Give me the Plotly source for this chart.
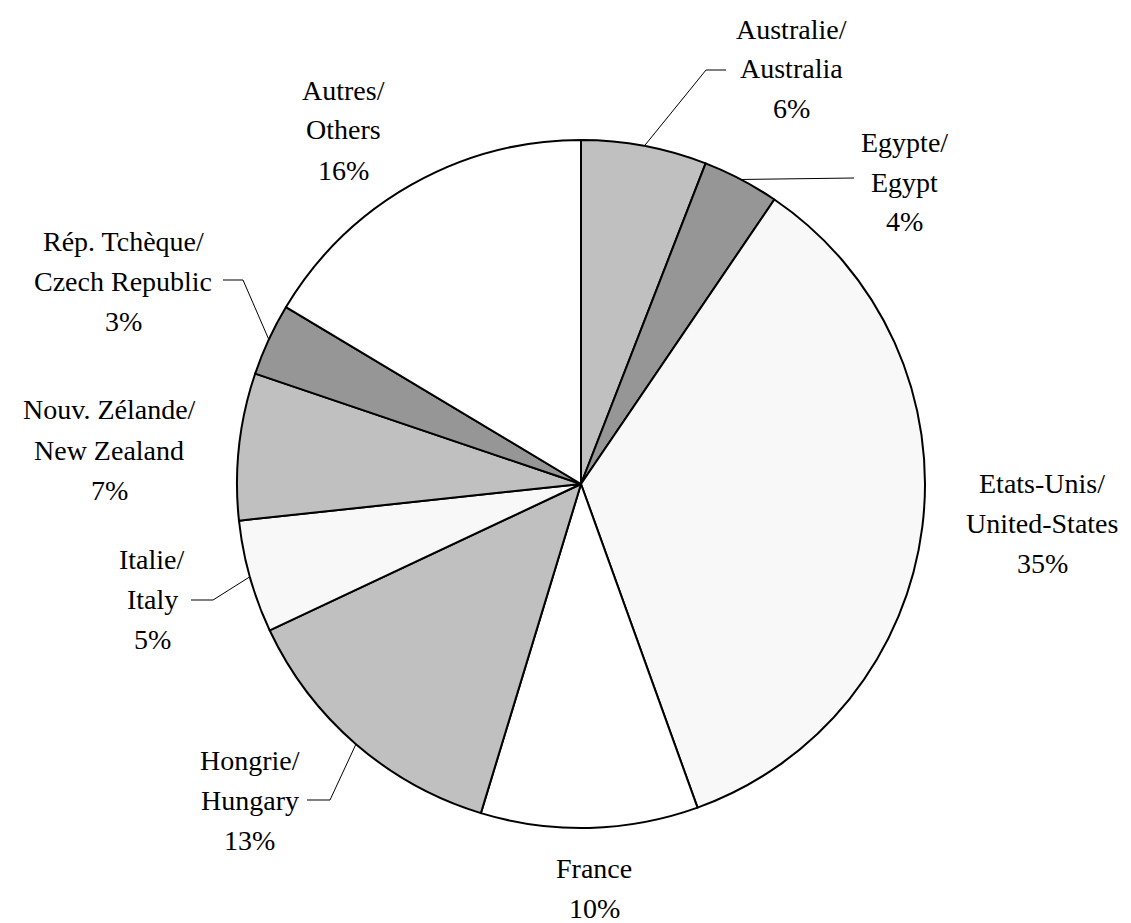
import math
import plotly.graph_objects as go

# ---- data ----
labels_fr = ["Australie/", "Egypte/", "Etats-Unis/", "France", "Hongrie/", "Italie/",
             "Nouv. Zélande/", "Rép. Tchèque/", "Autres/"]
labels_en = ["Australia", "Egypt", "United-States", None, "Hungary", "Italy",
             "New Zealand", "Czech Republic", "Others"]
values = [5.9, 3.6, 35.0, 10.2, 13.3, 5.3, 6.9, 3.4, 16.4]

# ---- style ----
colors = ["#C0C0C0", "#969696", "#F8F8F8", "#FFFFFF", "#C0C0C0", "#F8F8F8",
          "#C0C0C0", "#969696", "#FFFFFF"]
W, H = 1131, 923
OFF = 8                              # page body margin compensation
CX, CY, R = 581, 484, 344            # pie centre / radius in pixels
FONT = dict(family="Liberation Serif", size=28, color="black")
LINE_GAP = 40
# label text centre x, and y of the first line (pixels)
label_pos = [(791, 29), (904, 142), (1042, 483), (594, 868), (250, 760),
             (152, 559), (109, 410), (123, 241), (343, 90)]
# leader lines: (elbow, end) in pixels, None if no line
leaders = [((706, 70), (726, 70)),
           ((854, 178), (854, 178)),
           None, None,
           ((330, 800), (307, 800)),
           ((213, 600), (191, 600)),
           None,
           ((243, 280), (223, 280)),
           None]


def px(x):
    return (x - OFF) / W


def py(y):
    return 1 - (y - OFF) / H


fig = go.Figure(go.Pie(
    values=values,
    labels=labels_fr,
    sort=False,
    direction="clockwise",
    rotation=0,
    textinfo="none",
    hoverinfo="none",
    showlegend=False,
    marker=dict(colors=colors, line=dict(color="black", width=2)),
    domain=dict(x=[px(CX - R), px(CX + R)], y=[py(CY + R), py(CY - R)]),
))

annotations = []
shapes = []
total = sum(values)
cum = 0.0
for i, v in enumerate(values):
    mid = (cum + v / 2) / total
    cum += v
    lines = [labels_fr[i]]
    if labels_en[i]:
        lines.append(labels_en[i])
    lines.append(f"{round(v / total * 100)}%")
    lx, ly = label_pos[i]
    for k, t in enumerate(lines):
        annotations.append(dict(
            x=px(lx), y=py(ly + k * LINE_GAP), xref="paper", yref="paper",
            text=t, showarrow=False, xanchor="center", yanchor="middle", font=FONT))
    if leaders[i]:
        th = 2 * math.pi * mid
        sx = CX + R * math.sin(th)
        sy = CY - R * math.cos(th)
        (ex1, ey1), (ex2, ey2) = leaders[i]
        path = f"M {px(sx)},{py(sy)} L {px(ex1)},{py(ey1)} L {px(ex2)},{py(ey2)}"
        shapes.append(dict(type="path", path=path, xref="paper", yref="paper",
                           line=dict(color="black", width=1)))

fig.update_layout(
    width=W, height=H,
    margin=dict(l=0, r=0, t=0, b=0),
    paper_bgcolor="white", plot_bgcolor="white",
    annotations=annotations, shapes=shapes,
)
fig.write_html("out.html")
